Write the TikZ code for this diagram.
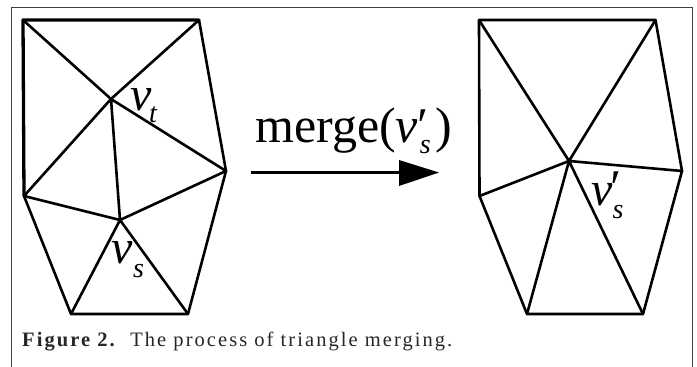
\documentclass[tikz,border=0pt]{standalone}
\usepackage{fontspec}
\setmainfont{Liberation Serif}
\usetikzlibrary{arrows.meta}
\newcommand{\sublab}[3]{\rlap{\kern#1pt\raisebox{#2pt}{\fontsize{28}{28}\selectfont\itshape #3}}}
\newcommand{\primelab}[2]{\rlap{\kern#1pt\raisebox{#2pt}{\fontsize{50}{50}\selectfont\itshape\char"2032}}}
\tikzset{
  mesh/.style={line width=2.6pt,line join=round,line cap=round,black},
  heavy/.style={line width=3.3pt,line join=round,line cap=round,black},
  frameline/.style={line width=1pt,draw=black!75},
  vlabel/.style={inner sep=0pt,anchor=base west,font=\fontsize{48}{48}\selectfont\itshape},
  bigtext/.style={inner sep=0pt,anchor=base west,font=\fontsize{50}{50}\selectfont},
}
\begin{document}
\begin{tikzpicture}[x=1pt,y=-1pt]
\useasboundingbox (0,0) rectangle (697,367);
\fill[white] (0,0) rectangle (697,367);
\coordinate (fa) at (11,367); \coordinate (fb) at (11,7.5);
\coordinate (fc) at (692,7.5); \coordinate (fd) at (692,367);
\draw[frameline] (fa) -- (fb) -- (fc) -- (fd);
% left mesh
\coordinate (A) at (23,20); \coordinate (B) at (199,20); \coordinate (C) at (111,99);
\coordinate (D) at (226,171); \coordinate (E) at (24,196); \coordinate (F) at (120,220);
\coordinate (G) at (71,314); \coordinate (H) at (188,314);
\draw[mesh] (B) -- (D) -- (H) -- (G) -- (E);
\draw[heavy] (E) -- (A) -- (B);
\draw[mesh] (A) -- (C) -- (B) (C) -- (D) -- (F) -- (C) -- (E) -- (F) -- (G) (F) -- (H);
% right mesh
\coordinate (a) at (479,20); \coordinate (b) at (655.5,20); \coordinate (c) at (569,161);
\coordinate (d) at (682,171); \coordinate (e) at (479.5,196);
\coordinate (g) at (527,314); \coordinate (h) at (643,314);
\draw[mesh] (a) -- (b) -- (d) -- (h) -- (g) -- (e) -- cycle;
\draw[mesh] (a) -- (c) -- (b) (c) -- (d) (c) -- (e) (c) -- (g) (c) -- (h);
% arrow
\coordinate (arrS) at (251,172.5); \coordinate (arrM) at (400,172.5); \coordinate (arrE) at (439,172.5);
\coordinate (arrU) at (399,160); \coordinate (arrD) at (399,186);
\draw[line width=2.4pt] (arrS) -- (arrM);
\fill (arrU) -- (arrE) -- (arrD) -- cycle;
% labels
\node[vlabel] (vt) at (130,110) {v\sublab{-2.3}{-12}{t}};
\node[vlabel] (vs) at (111,263) {v\sublab{0.7}{-14}{s}};
\node[vlabel] (vp) at (591,205) {v\sublab{0}{-13}{s}\primelab{-5}{1}};
\node[bigtext] (mg) at (255,142) {merge({\itshape v}\sublab{1.8}{-11}{s}\primelab{-3.2}{0}\kern17.8pt)};
\node[inner sep=0pt,anchor=base west,font=\fontsize{20.5}{22}\selectfont\addfontfeature{LetterSpace=10},text=black!85] (cap) at (22,346.5) {\textbf{Figure 2.}\hspace{4pt} The process of triangle merging.};
\end{tikzpicture}
\end{document}
